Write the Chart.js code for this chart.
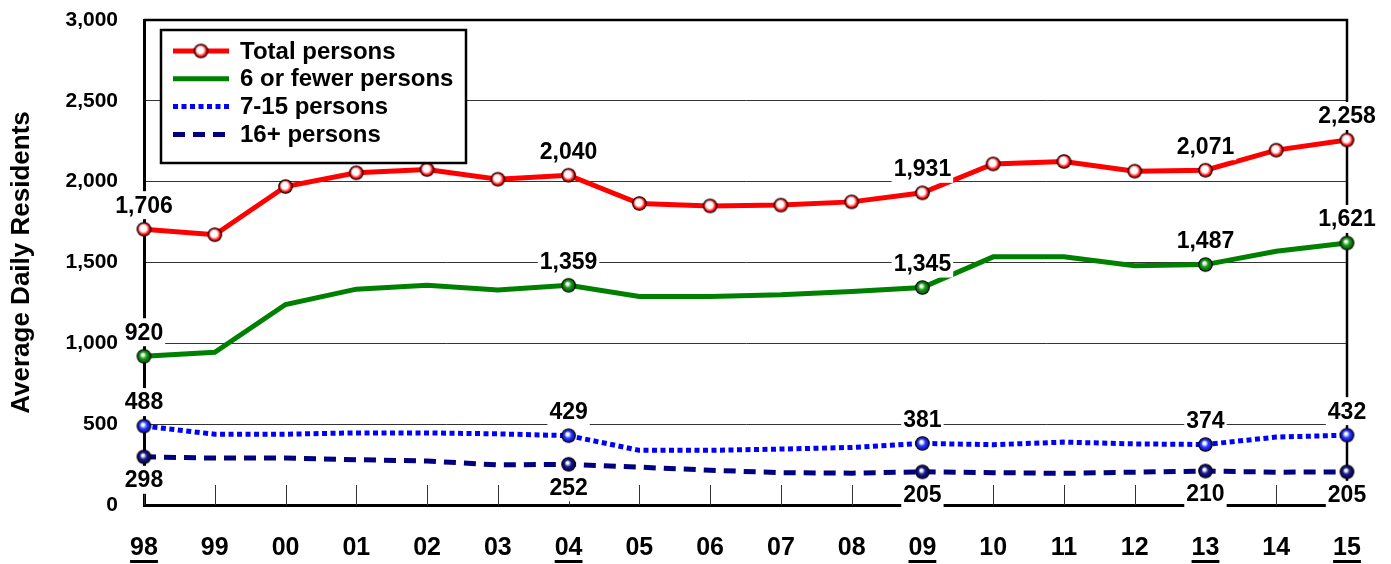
<!DOCTYPE html>
<html><head><meta charset="utf-8">
<script src="https://cdn.jsdelivr.net/npm/chart.js@4.4.0/dist/chart.umd.min.js"></script>
<style>html,body{margin:0;padding:0;background:#fff}#wrap{width:1391px;height:564px}</style>
</head><body><div id="wrap"><canvas id="c" width="1391" height="564"></canvas></div>
<script>
const years = ['98','99','00','01','02','03','04','05','06','07','08','09','10','11','12','13','14','15'];
const totalPersons = [1706,1672,1970,2055,2075,2015,2040,1865,1850,1855,1875,1931,2110,2125,2065,2071,2195,2258];
const sixOrFewer   = [920,945,1240,1335,1360,1330,1359,1290,1290,1300,1320,1345,1535,1535,1480,1487,1570,1621];
const sevenTo15    = [488,438,438,446,446,440,429,338,338,346,356,381,373,389,378,374,420,432];
const sixteenPlus  = [298,290,290,280,272,248,252,234,215,200,197,205,200,196,203,210,203,205];
const seriesNames  = ['Total persons','6 or fewer persons','7-15 persons','16+ persons'];
const labeledYears = ['98','04','09','13','15'];
const yMin = 0, yMax = 3000, yStep = 500;

const FONT = '"Liberation Sans", Arial, Helvetica, sans-serif';

function makeMarker(color, dark, whiteEnd) {
  const c = document.createElement('canvas');
  c.width = 17; c.height = 17;
  const g = c.getContext('2d');
  const grad = g.createRadialGradient(7.2, 6.8, 0.3, 8.5, 8.5, 7);
  grad.addColorStop(0, '#ffffff');
  grad.addColorStop(whiteEnd, '#ffffff');
  grad.addColorStop(Math.min(1, whiteEnd + 0.35), color);
  grad.addColorStop(1, dark);
  g.beginPath(); g.arc(8.5, 8.5, 6.8, 0, Math.PI * 2);
  g.fillStyle = grad; g.fill();
  g.lineWidth = 1.1; g.strokeStyle = '#000'; g.stroke();
  return c;
}
const markerRed = makeMarker('#ff0000', '#b00000', 0.45);
const markerGreen = makeMarker('#1a9a1a', '#005000', 0.12);
const markerBlue = makeMarker('#2a3cff', '#0000a0', 0.15);
const markerNavy = makeMarker('#1a1a90', '#000040', 0.12);

const labeledRadius = years.map(y => labeledYears.includes(y) ? 7 : 0);

const frameAndTicks = {
  id: 'frameAndTicks',
  beforeDatasetsDraw(chart) {
    const {ctx, chartArea: a, scales: {x}} = chart;
    ctx.save();
    ctx.strokeStyle = '#333'; ctx.lineWidth = 1;
    years.forEach((y, i) => {
      const px = Math.round(x.getPixelForValue(i)) + 0.5;
      ctx.beginPath(); ctx.moveTo(px, a.bottom - 20); ctx.lineTo(px, a.bottom); ctx.stroke();
    });
    ctx.strokeStyle = '#000'; ctx.lineWidth = 2.5;
    ctx.beginPath();
    ctx.moveTo(a.left, a.top); ctx.lineTo(a.right, a.top); ctx.lineTo(a.right, a.bottom);
    ctx.stroke();
    ctx.restore();
  }
};

const boxLegend = {
  id: 'boxLegend',
  afterDatasetsDraw(chart) {
    const {ctx, chartArea: a} = chart;
    const L = a.left + 17, T = a.top + 10, W = 305, H = 133;
    ctx.save();
    ctx.fillStyle = '#fff'; ctx.fillRect(L, T, W, H);
    ctx.strokeStyle = '#000'; ctx.lineWidth = 2.5; ctx.strokeRect(L, T, W, H);
    ctx.font = 'bold 24px ' + FONT;
    ctx.textBaseline = 'middle'; ctx.textAlign = 'left';
    chart.data.datasets.forEach((ds, i) => {
      const cy = T + 21 + i * 27.8;
      ctx.save();
      ctx.strokeStyle = ds.borderColor; ctx.lineWidth = ds.borderWidth;
      ctx.setLineDash(ds.borderDash || []);
      ctx.beginPath(); ctx.moveTo(L + 12, cy); ctx.lineTo(L + 68, cy); ctx.stroke();
      ctx.restore();
      if (i === 0) ctx.drawImage(markerRed, L + 40 - 8.5, cy - 8.5);
      ctx.fillStyle = '#000';
      ctx.fillText(ds.label, L + 79, cy + 1);
    });
    ctx.restore();
  }
};

const valueLabels = {
  id: 'valueLabels',
  afterDatasetsDraw(chart) {
    const ctx = chart.ctx;
    ctx.save();
    ctx.font = 'bold 23px ' + FONT;
    ctx.textAlign = 'center'; ctx.textBaseline = 'middle';
    chart.data.datasets.forEach((ds, di) => {
      const meta = chart.getDatasetMeta(di);
      const below = di === 3;
      years.forEach((yr, i) => {
        if (!labeledYears.includes(yr)) return;
        const pt = meta.data[i];
        const txt = ds.data[i].toLocaleString('en-US');
        const w = ctx.measureText(txt).width;
        const cy = below ? pt.y + 23 : pt.y - 24;
        ctx.fillStyle = '#fff';
        ctx.fillRect(pt.x - w / 2 - 2, cy - 14, w + 4, 28);
        ctx.fillStyle = '#000';
        ctx.fillText(txt, pt.x, cy + 1);
      });
    });
    ctx.restore();
  }
};

const underlines = {
  id: 'underlines',
  afterDraw(chart) {
    const {ctx, scales: {x}} = chart;
    ctx.save();
    ctx.font = 'bold 25px ' + FONT;
    ctx.fillStyle = '#000';
    years.forEach((yr, i) => {
      if (!labeledYears.includes(yr)) return;
      const px = x.getPixelForValue(i);
      const w = ctx.measureText(yr).width;
      ctx.fillRect(px - w / 2, 560, w, 3);
    });
    ctx.restore();
  }
};

new Chart(document.getElementById('c'), {
  type: 'line',
  data: {
    labels: years,
    datasets: [
      { label: seriesNames[0], data: totalPersons, borderColor: '#ff0000', borderWidth: 5,
        pointStyle: markerRed, pointRadius: 7, clip: false, tension: 0 },
      { label: seriesNames[1], data: sixOrFewer, borderColor: '#008000', borderWidth: 5,
        pointStyle: markerGreen, pointRadius: labeledRadius, clip: false, tension: 0 },
      { label: seriesNames[2], data: sevenTo15, borderColor: '#0000ff', borderWidth: 5, borderDash: [5, 3.5],
        borderCapStyle: 'butt', pointStyle: markerBlue, pointRadius: labeledRadius, clip: false, tension: 0 },
      { label: seriesNames[3], data: sixteenPlus, borderColor: '#000080', borderWidth: 5, borderDash: [12, 8],
        borderCapStyle: 'butt', pointStyle: markerNavy, pointRadius: labeledRadius, clip: false, tension: 0 }
    ]
  },
  options: {
    responsive: false,
    devicePixelRatio: 1,
    animation: false,
    events: [],
    layout: { padding: { top: 20, right: 44, bottom: 0, left: 0 } },
    plugins: { legend: { display: false }, tooltip: { enabled: false } },
    scales: {
      x: {
        type: 'category',
        offset: false,
        grid: { display: false, drawTicks: false },
        border: { display: true, color: '#000', width: 3 },
        ticks: { color: '#000', font: { family: FONT, size: 25, weight: 'bold' }, padding: 28, maxRotation: 0, autoSkip: false },
        afterFit(s) { s.height = 59; }
      },
      y: {
        min: yMin, max: yMax,
        grid: { color: '#333', lineWidth: 1, drawTicks: false },
        border: { display: true, color: '#000', width: 3 },
        ticks: { stepSize: yStep, color: '#000', padding: 26,
          font: { family: FONT, size: 21, weight: 'bold' },
          callback: v => v.toLocaleString('en-US') },
        title: { display: true, text: 'Average Daily Residents', color: '#000',
          font: { family: FONT, size: 26, weight: 'bold' }, padding: { top: 6, bottom: 0 } },
        afterFit(s) { s.width = 144; s.paddingTop = 0; s.paddingBottom = 0; }
      }
    }
  },
  plugins: [frameAndTicks, boxLegend, valueLabels, underlines]
});
</script>
</body></html>
